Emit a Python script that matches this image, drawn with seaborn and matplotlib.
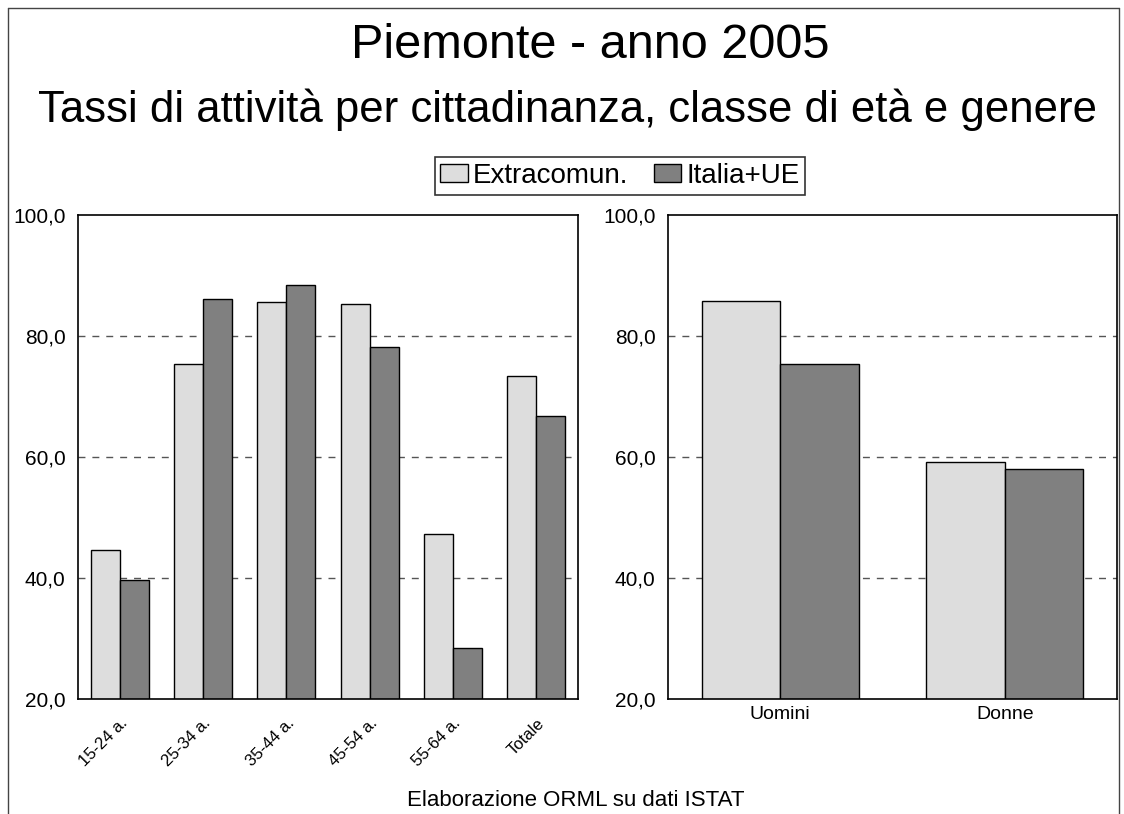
import matplotlib
matplotlib.use("Agg")
import matplotlib.pyplot as plt
import seaborn as sns
import pandas as pd
from matplotlib.lines import Line2D
from matplotlib.ticker import FuncFormatter

# ---- data ----
age_classes = ["15-24 a.", "25-34 a.", "35-44 a.", "45-54 a.", "55-64 a.", "Totale"]
extra_age = [44.6, 75.4, 85.7, 85.3, 47.2, 73.4]
italia_age = [39.6, 86.1, 88.4, 78.2, 28.4, 66.8]

genders = ["Uomini", "Donne"]
extra_gender = [85.8, 59.2]
italia_gender = [75.4, 58.0]

series = ["Extracomun.", "Italia+UE"]
colors = ["#DDDDDD", "#808080"]
y_ticks = [20, 40, 60, 80, 100]

title = "Piemonte - anno 2005"
subtitle = "Tassi di attività per cittadinanza, classe di età e genere"
footer = "Elaborazione ORML su dati ISTAT"

df_age = pd.DataFrame({
    "cat": age_classes * 2,
    "val": extra_age + italia_age,
    "serie": [series[0]] * len(age_classes) + [series[1]] * len(age_classes),
})
df_gen = pd.DataFrame({
    "cat": genders * 2,
    "val": extra_gender + italia_gender,
    "serie": [series[0]] * len(genders) + [series[1]] * len(genders),
})

sns.set_theme(style="white")
plt.rcParams["font.family"] = ["Liberation Sans", "DejaVu Sans"]
plt.rcParams["text.color"] = "black"

W, H = 1124, 814
fig = plt.figure(figsize=(W / 100, H / 100), dpi=100)
fig.patch.set_facecolor("white")

def px_axes(x0, x1, y0, y1):
    return fig.add_axes([x0 / W, 1 - y1 / H, (x1 - x0) / W, (y1 - y0) / H])

ax1 = px_axes(78, 578, 215, 699)
ax2 = px_axes(668, 1117, 215, 699)

fmt = FuncFormatter(lambda v, p: f"{v:.1f}".replace(".", ","))

for ax, df, order in [(ax1, df_age, age_classes), (ax2, df_gen, genders)]:
    sns.barplot(data=df, x="cat", y="val", hue="serie", order=order,
                hue_order=series, palette=colors, width=0.7,
                edgecolor="black", linewidth=1.0, saturation=1, ax=ax,
                legend=(ax is ax1))
    ax.set_ylim(20, 100)
    ax.set_yticks(y_ticks)
    ax.yaxis.set_major_formatter(fmt)
    ax.set_xlabel("")
    ax.set_ylabel("")
    for y in [40, 60, 80]:
        ax.axhline(y, color="#555555", linestyle=(0, (5, 5)), linewidth=1.0, zorder=0)
    for s in ax.spines.values():
        s.set_visible(True)
        s.set_color("black")
        s.set_linewidth(1.2)
    ax.tick_params(axis="y", labelsize=15, length=0, pad=9, labelcolor="black")
    ax.tick_params(axis="x", length=0, labelcolor="black")

ax1.tick_params(axis="x", labelsize=12, pad=12)
for lab in ax1.get_xticklabels():
    lab.set_rotation(45)
    lab.set_ha("right")
    lab.set_rotation_mode("anchor")
ax2.tick_params(axis="x", labelsize=14, pad=5)

handles, labels = ax1.get_legend_handles_labels()
ax1.get_legend().remove()
leg = fig.legend(handles, labels, loc="center", bbox_to_anchor=(620 / W, 1 - 176 / H),
                 ncol=2, fontsize=20, frameon=True, fancybox=False,
                 handlelength=1.0, handleheight=0.6, handletextpad=0.18,
                 columnspacing=0.9, borderpad=0.2, borderaxespad=0, edgecolor="black")
leg.get_frame().set_linewidth(1.2)

fig.text(590 / W, 1 - 46 / H, title, ha="center", va="center", fontsize=35, color="black")
fig.text(568 / W, 1 - 110 / H, subtitle, ha="center", va="center", fontsize=31.5, color="black")
fig.text(576 / W, 1 - 800 / H, footer, ha="center", va="center", fontsize=16, color="black")

# outer frame (left, top, right)
fx0, fx1, fy = 8 / W, 1119 / W, 1 - 8 / H
for xs, ys in [([fx0, fx0], [0, fy]), ([fx0, fx1], [fy, fy]), ([fx1, fx1], [fy, 0])]:
    fig.add_artist(Line2D(xs, ys, color="#444444", linewidth=1.0, transform=fig.transFigure))

fig.savefig("out.png", dpi=100, facecolor="white")
